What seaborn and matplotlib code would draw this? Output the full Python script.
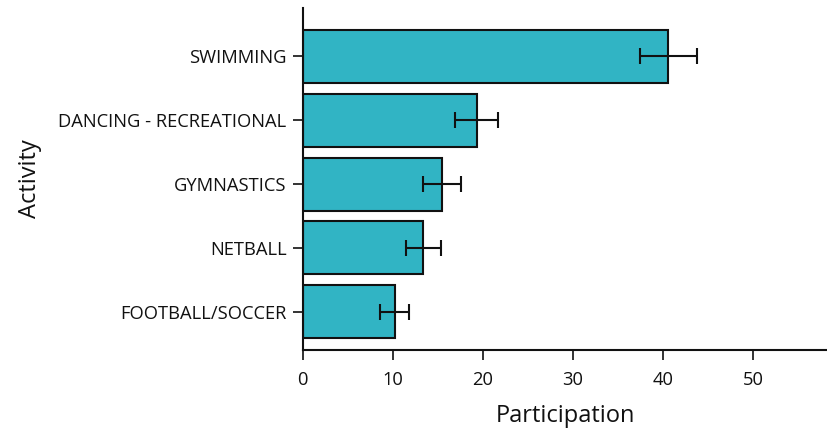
import pandas as pd
import matplotlib
matplotlib.use('Agg')
import matplotlib.pyplot as plt
import seaborn as sns

# values
activities = ['SWIMMING', 'DANCING - RECREATIONAL', 'GYMNASTICS', 'NETBALL', 'FOOTBALL/SOCCER']
participation = [40.6, 19.3, 15.5, 13.4, 10.2]
error = [3.15, 2.4, 2.1, 1.9, 1.6]
x_ticks = [0, 10, 20, 30, 40, 50]

df = pd.DataFrame({'Activity': activities, 'Participation': participation, 'err': error})

sns.set_style('white')
plt.rcParams['font.family'] = ['Open Sans', 'DejaVu Sans']

fig = plt.figure(figsize=(8.28, 4.37), dpi=100)
ax = fig.add_axes([0.3655, 0.199, 0.6345, 0.783])

sns.barplot(data=df, x='Participation', y='Activity', orient='h', color='#31B4C4',
            saturation=1, width=0.83, edgecolor='#111111', linewidth=1.5,
            errorbar=None, ax=ax)
ax.errorbar(df['Participation'], range(len(df)), xerr=df['err'], fmt='none',
            ecolor='#111111', elinewidth=1.5, capsize=6, capthick=1.5)

ax.set_xlim(0, 58.3)
ax.set_ylim(4.6, -0.76)
ax.set_xticks(x_ticks)
ax.set_xlabel('Participation', fontsize=17, labelpad=11, color='#111111')
ax.set_ylabel('Activity', fontsize=17, labelpad=12, color='#111111')
ax.tick_params(axis='x', labelsize=13.2, length=7, width=1.2, direction='out', bottom=True,
               pad=8, color='#111111', labelcolor='#111111')
ax.tick_params(axis='y', labelsize=13.2, length=7.5, width=1.2, direction='out', left=True,
               pad=4, color='#111111', labelcolor='#111111')

sns.despine(ax=ax)
for s in ['left', 'bottom']:
    ax.spines[s].set_color('#111111')
    ax.spines[s].set_linewidth(1.5)

fig.savefig('out.png', dpi=100)
